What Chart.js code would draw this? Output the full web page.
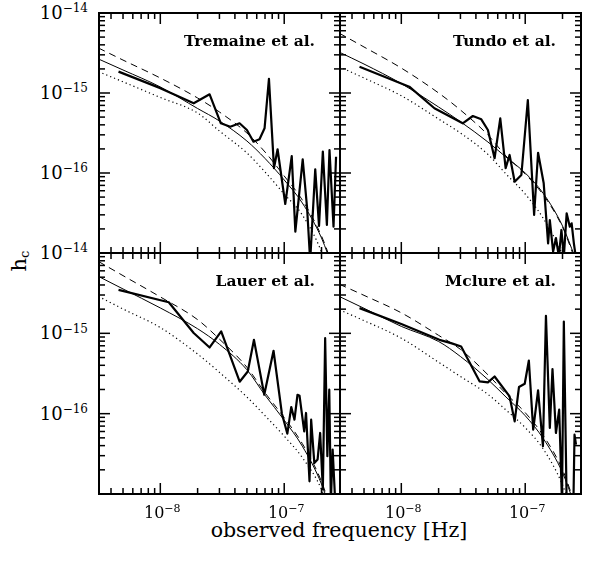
<!DOCTYPE html>
<html>
<head>
<meta charset="utf-8">
<script src="https://cdn.jsdelivr.net/npm/chart.js@4"></script>
<style>
  body { margin: 0; background: #fff; }
  #wrap { position: relative; width: 603px; height: 561px; overflow: hidden; font-family: 'DejaVu Serif', serif; color: #000; }
  #wrap canvas { position: absolute; }
  #frame { left: 0; top: 0; z-index: 5; }
  .lab { position: absolute; white-space: nowrap; line-height: 1; }
  .lab sup { position: relative; top: -0.55em; vertical-align: 0; }
  .ylab { font-size: 18px; transform: translate(-100%, -50%); }
  .ylab sup { font-size: 12px; }
  .xlab { font-size: 16px; transform: translate(-50%, 0); }
  .xlab sup { font-size: 11px; }
  #xtitle { font-size: 20.5px; left: 339px; top: 520px; transform: translate(-50%, 0); }
  #ytitle { font-size: 21px; left: 19px; top: 261px; transform: translate(-50%, -50%) rotate(-90deg); }
  #ytitle sub { font-size: 13px; position: relative; top: 0.2em; vertical-align: 0; }
</style>
</head>
<body>
<div id="wrap">
  <canvas id="c0" width="253" height="252"></canvas>
  <canvas id="c1" width="253" height="252"></canvas>
  <canvas id="c2" width="253" height="253"></canvas>
  <canvas id="c3" width="253" height="253"></canvas>
  <canvas id="frame" width="603" height="561"></canvas>
  <div class="lab" id="xtitle">observed frequency [Hz]</div>
  <div class="lab" id="ytitle">h<sub>c</sub></div>
</div>
<script>
// frequencies [Hz] at which the model curves are sampled
const freqCurve = [3.17e-9, 5e-9, 1e-8, 2e-8, 3e-8, 5e-8, 7e-8, 1e-7, 1.4e-7, 2e-7, 2.5e-7];

// Tremaine et al.
const tremaineDashed = [3.65e-15, 2.58e-15, 1.54e-15, 8.66e-16, 5.79e-16, 3.16e-16, 1.83e-16, 9.17e-17, 4.60e-17, 1.63e-17, 6.5e-18];
const tremaineSolid  = [2.66e-15, 1.94e-15, 1.19e-15, 6.40e-16, 4.47e-16, 2.51e-16, 1.52e-16, 8.18e-17, 4.22e-17, 1.54e-17, 6.1e-18];
const tremaineDotted = [1.85e-15, 1.38e-15, 8.79e-16, 5.62e-16, 3.35e-16, 1.78e-16, 1.03e-16, 5.46e-17, 2.99e-17, 1.03e-17, 3.45e-18];
const tremaineF = [4.6e-9, 1.0e-8, 1.86e-8, 2.50e-8, 3.08e-8, 3.67e-8, 4.36e-8, 5.00e-8, 5.65e-8, 6.32e-8, 6.94e-8, 7.53e-8, 8.27e-8, 8.84e-8,
                   1.02e-7, 1.15e-7, 1.23e-7, 1.41e-7, 1.53e-7, 1.62e-7, 1.78e-7, 1.91e-7, 2.05e-7, 2.21e-7, 2.32e-7, 2.50e-7, 2.62e-7];
const tremaineH = [1.85e-15, 1.15e-15, 7.43e-16, 9.63e-16, 4.18e-16, 3.79e-16, 4.18e-16, 3.45e-16, 2.46e-16, 2.64e-16, 3.62e-16, 1.50e-15, 1.15e-16, 1.98e-16,
                   4.10e-17, 1.63e-16, 1.85e-17, 1.48e-16, 3.65e-17, 8e-18, 1.11e-16, 2.18e-17, 1.85e-16, 2.24e-17, 1.94e-16, 2.13e-17, 1.6e-16];

// Tundo et al.
const tundoDashed = [5.57e-15, 3.76e-15, 2.05e-15, 1.0e-15, 6.13e-16, 2.99e-16, 1.63e-16, 9.71e-17, 5.31e-17, 2.11e-17, 8.66e-18];
const tundoSolid  = [3.23e-15, 2.30e-15, 1.31e-15, 6.68e-16, 4.38e-16, 2.44e-16, 1.58e-16, 1.0e-16, 5.54e-17, 2.18e-17, 9.2e-18];
const tundoDotted = [2.13e-15, 1.54e-15, 9.23e-16, 4.73e-16, 3.16e-16, 1.71e-16, 9.71e-17, 5.46e-17, 2.70e-17, 9.44e-18, 3.45e-18];
const tundoF = [4.6e-9, 1.16e-8, 1.85e-8, 3.13e-8, 3.78e-8, 4.42e-8, 5.00e-8, 5.66e-8, 6.29e-8, 6.95e-8, 7.48e-8, 8.22e-8, 9.31e-8, 1.05e-7,
                1.18e-7, 1.27e-7, 1.41e-7, 1.53e-7, 1.58e-7, 1.68e-7, 1.77e-7, 1.87e-7, 1.96e-7, 2.05e-7, 2.16e-7, 2.29e-7, 2.37e-7, 2.47e-7, 2.56e-7];
const tundoH = [2.13e-15, 1.20e-15, 6.44e-16, 4.18e-16, 5.16e-16, 4.69e-16, 3.45e-16, 1.53e-16, 4.83e-16, 1.15e-16, 1.68e-16, 7.79e-17, 9.44e-17, 8.18e-16,
                2.99e-17, 1.79e-16, 7.43e-17, 1.32e-17, 2.58e-17, 1.04e-17, 1.54e-17, 9e-18, 1.94e-17, 9e-18, 3.13e-17, 2.13e-17, 2.35e-17, 1.32e-17, 9e-18];

// Lauer et al.
const lauerDashed = [7.84e-15, 5.23e-15, 2.84e-15, 1.48e-15, 8.47e-16, 3.78e-16, 1.82e-16, 8.91e-17, 4.24e-17, 1.43e-17, 5.1e-18];
const lauerSolid  = [5.11e-15, 3.57e-15, 2.07e-15, 1.14e-15, 7.30e-16, 3.52e-16, 1.70e-16, 8.30e-17, 3.94e-17, 1.33e-17, 4.8e-18];
const lauerDotted = [2.88e-15, 2.01e-15, 1.18e-15, 5.52e-16, 3.27e-16, 1.61e-16, 9.44e-17, 5.25e-17, 2.84e-17, 1.14e-17, 4.2e-18];
const lauerF = [4.6e-9, 1.17e-8, 1.86e-8, 2.50e-8, 3.10e-8, 4.37e-8, 5.08e-8, 5.70e-8, 6.90e-8, 8.20e-8, 9.58e-8, 1.06e-7, 1.14e-7, 1.21e-7, 1.28e-7,
                1.33e-7, 1.45e-7, 1.50e-7, 1.60e-7, 1.65e-7, 1.75e-7, 1.86e-7, 1.95e-7, 2.05e-7, 2.14e-7, 2.23e-7, 2.31e-7, 2.38e-7, 2.46e-7, 2.58e-7];
const lauerH = [3.47e-15, 2.44e-15, 1.01e-15, 6.67e-16, 1.06e-15, 2.50e-16, 3.35e-16, 8.30e-16, 1.72e-16, 6.07e-16, 1.0e-16, 5.65e-17, 1.21e-16, 8.41e-17, 1.72e-16,
                1.67e-16, 6.02e-17, 1.02e-16, 1.44e-17, 8.41e-17, 2.44e-17, 2.69e-17, 5.75e-17, 1.14e-17, 8.71e-16, 2.95e-17, 1.99e-16, 8e-18, 3.57e-17, 8e-18];

// Mclure et al.
const mclureDashed = [4.08e-15, 2.97e-15, 1.80e-15, 9.44e-16, 6.32e-16, 3.05e-16, 1.77e-16, 1.03e-16, 5.33e-17, 2.01e-17, 7.8e-18];
const mclureSolid  = [2.87e-15, 2.05e-15, 1.22e-15, 7.91e-16, 5.15e-16, 2.66e-16, 1.61e-16, 9.44e-17, 4.89e-17, 1.85e-17, 7.4e-18];
const mclureDotted = [1.96e-15, 1.44e-15, 8.69e-16, 4.37e-16, 2.90e-16, 1.74e-16, 1.11e-16, 6.70e-17, 3.62e-17, 1.30e-17, 4.8e-18];
const mclureF = [4.6e-9, 1.0e-8, 2.03e-8, 2.52e-8, 3.04e-8, 4.29e-8, 5.00e-8, 5.66e-8, 7.48e-8, 8.22e-8, 8.91e-8, 9.91e-8, 1.07e-7, 1.16e-7,
                 1.27e-7, 1.39e-7, 1.47e-7, 1.58e-7, 1.66e-7, 1.77e-7, 1.88e-7, 1.98e-7, 2.05e-7, 2.16e-7, 2.45e-7, 2.50e-7, 2.57e-7];
const mclureH = [2.06e-15, 1.31e-15, 8.30e-16, 7.55e-16, 6.85e-16, 2.52e-16, 2.45e-16, 2.90e-16, 1.64e-16, 8.02e-17, 2.15e-16, 2.36e-16, 4.59e-16, 6.32e-17,
                 1.95e-16, 3.93e-17, 1.65e-15, 6.64e-17, 3.59e-16, 5.75e-17, 1.12e-16, 8e-18, 1.40e-15, 8e-18, 8e-18, 5.48e-17, 4.12e-17];

// axis ranges and tick positions
const xMin = 3.2e-9, xMax = 2.82e-7;
const yMin = 1e-17, yMax = 1e-14;
const xTicks = [4e-9, 5e-9, 6e-9, 7e-9, 8e-9, 9e-9, 1e-8, 2e-8, 3e-8, 4e-8, 5e-8, 6e-8, 7e-8, 8e-8, 9e-8, 1e-7, 2e-7];
const yTicks = [2e-17, 3e-17, 4e-17, 5e-17, 6e-17, 7e-17, 8e-17, 9e-17, 1e-16, 2e-16, 3e-16, 4e-16, 5e-16, 6e-16, 7e-16, 8e-16, 9e-16,
                1e-15, 2e-15, 3e-15, 4e-15, 5e-15, 6e-15, 7e-15, 8e-15, 9e-15];
const majorTicks = [1e-8, 1e-7, 1e-16, 1e-15];
const yTickLabels = [[1e-14, '−14'], [1e-15, '−15'], [1e-16, '−16']];
const xTickLabels = [[1e-8, '−8'], [1e-7, '−7']];

const PAD = 6;
const panels = [
  { canvas: 'c0', label: 'Tremaine et al.', left: 99,  top: 13,  f: tremaineF, hc: tremaineH, dashed: tremaineDashed, solid: tremaineSolid, dotted: tremaineDotted },
  { canvas: 'c1', label: 'Tundo et al.',    left: 340, top: 13,  f: tundoF,    hc: tundoH,    dashed: tundoDashed,    solid: tundoSolid,    dotted: tundoDotted },
  { canvas: 'c2', label: 'Lauer et al.',    left: 99,  top: 253, f: lauerF,    hc: lauerH,    dashed: lauerDashed,    solid: lauerSolid,    dotted: lauerDotted },
  { canvas: 'c3', label: 'Mclure et al.',   left: 340, top: 253, f: mclureF,   hc: mclureH,   dashed: mclureDashed,   solid: mclureSolid,   dotted: mclureDotted }
];

function pts(xs, ys) {
  return xs.map((v, i) => ({ x: v, y: ys[i] }));
}

const wrap = document.getElementById('wrap');
const charts = panels.map(p => {
  const el = document.getElementById(p.canvas);
  el.style.left = (p.left - PAD) + 'px';
  el.style.top = (p.top - PAD) + 'px';
  const base = { borderColor: '#000', pointRadius: 0, fill: false };
  return new Chart(el, {
    type: 'line',
    data: {
      datasets: [
        { ...base, data: pts(freqCurve, p.dashed), borderWidth: 1, borderDash: [7, 5], cubicInterpolationMode: 'monotone' },
        { ...base, data: pts(freqCurve, p.solid), borderWidth: 1, cubicInterpolationMode: 'monotone' },
        { ...base, data: pts(freqCurve, p.dotted), borderWidth: 1.2, borderDash: [1.2, 3], cubicInterpolationMode: 'monotone' },
        { ...base, data: pts(p.f, p.hc), borderWidth: 2.2, borderJoinStyle: 'round', tension: 0 }
      ]
    },
    options: {
      responsive: false,
      animation: false,
      events: [],
      layout: { padding: PAD },
      plugins: { legend: { display: false }, tooltip: { enabled: false } },
      scales: {
        x: { type: 'logarithmic', min: xMin, max: xMax, display: false },
        y: { type: 'logarithmic', min: yMin, max: yMax, display: false }
      }
    }
  });
});

// box frames with inward ticks on all four sides and the panel names,
// laid over the four charts and positioned from their scales
const octx = document.getElementById('frame').getContext('2d');
charts.forEach((c, i) => {
  const p = panels[i];
  const ox = p.left - PAD, oy = p.top - PAD;
  const a = c.chartArea, x = c.scales.x, y = c.scales.y;
  const L = ox + a.left, R = ox + a.right, T = oy + a.top, B = oy + a.bottom;
  octx.fillStyle = '#000';
  xTicks.forEach(v => {
    const len = majorTicks.includes(v) ? 11 : 6;
    const px = ox + x.getPixelForValue(v);
    octx.fillRect(px - 0.75, B - len, 1.5, len);
    octx.fillRect(px - 0.75, T, 1.5, len);
  });
  yTicks.forEach(v => {
    const len = majorTicks.includes(v) ? 11 : 6;
    const py = oy + y.getPixelForValue(v);
    octx.fillRect(L, py - 0.75, len, 1.5);
    octx.fillRect(R - len, py - 0.75, len, 1.5);
  });
  octx.lineWidth = 2;
  octx.strokeStyle = '#000';
  octx.strokeRect(L, T, R - L, B - T);
  octx.font = 'bold 15.5px "DejaVu Serif"';
  octx.textAlign = 'right';
  octx.textBaseline = 'alphabetic';
  octx.fillText(p.label, R - 25, T + 33);
});

// tick labels outside the panels
function addLabel(cls, html, left, top) {
  const d = document.createElement('div');
  d.className = 'lab ' + cls;
  d.innerHTML = html;
  d.style.left = left + 'px';
  d.style.top = top + 'px';
  wrap.appendChild(d);
}
[0, 2].forEach(i => {
  const p = panels[i], c = charts[i];
  yTickLabels.forEach(([v, ex]) => {
    addLabel('ylab', '10<sup>' + ex + '</sup>', 88, p.top - PAD + c.scales.y.getPixelForValue(v));
  });
});
[2, 3].forEach(i => {
  const p = panels[i], c = charts[i];
  xTickLabels.forEach(([v, ex]) => {
    addLabel('xlab', '10<sup>' + ex + '</sup>', p.left - PAD + c.scales.x.getPixelForValue(v) + 2, 505);
  });
});
</script>
</body>
</html>
